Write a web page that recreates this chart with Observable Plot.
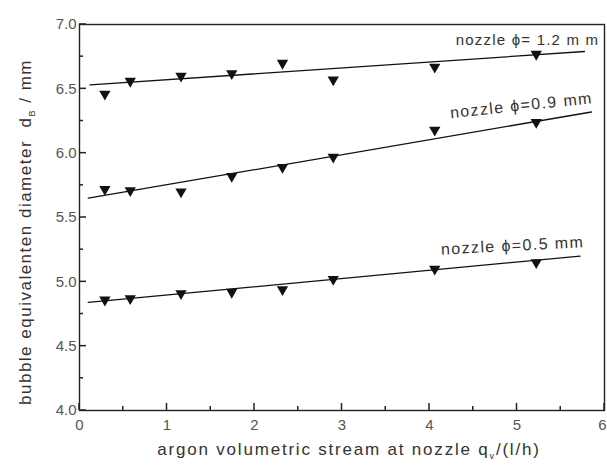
<!DOCTYPE html>
<html>
<head>
<meta charset="utf-8">
<script src="https://cdn.jsdelivr.net/npm/d3@7"></script>
<script src="https://cdn.jsdelivr.net/npm/@observablehq/plot@0.6"></script>
<style>
  html, body { margin: 0; padding: 0; background: #fff; }
  #chart svg { display: block; }
</style>
</head>
<body>
<div id="chart"></div>
<script>
// Argon flow rates (l/h)
const flow = [0.29, 0.58, 1.16, 1.74, 2.32, 2.90, 4.06, 5.22];
// Bubble equivalent diameter (mm) per nozzle diameter
const d12 = [6.46, 6.56, 6.60, 6.62, 6.70, 6.57, 6.67, 6.77];
const d09 = [5.72, 5.71, 5.70, 5.82, 5.89, 5.97, 6.18, 6.24];
const d05 = [4.86, 4.87, 4.91, 4.92, 4.94, 5.02, 5.10, 5.15];
// Fitted lines: start / end flow and diameter
const fitX12 = [0.12, 5.77], fitY12 = [6.53, 6.79];
const fitX09 = [0.10, 5.85], fitY09 = [5.65, 6.32];
const fitX05 = [0.10, 5.72], fitY05 = [4.84, 5.20];
// Series labels
const labelText = ["nozzle \u03D5= 1.2 m m", "nozzle \u03D5=0.9 mm", "nozzle \u03D5=0.5 mm"];
const labelX = [5.12, 5.05, 4.95];
const labelY = [6.88, 6.37, 5.28];
const labelRot = [0, -6, -3];
// Axis ticks
const xMajor = [0, 1, 2, 3, 4, 5];
const xLast = [6];
const xMinor = [0.5, 1.5, 2.5, 3.5, 4.5, 5.5];
const yMajor = [4.0, 4.5, 5.0, 5.5, 6.0, 6.5, 7.0];
const yMinor = [4.25, 4.75, 5.25, 5.75, 6.25, 6.75];

const points = [];
[d12, d09, d05].forEach((s, k) => s.forEach((v, i) => points.push({x: flow[i], y: v, k})));
const fits = [];
[[fitX12, fitY12], [fitX09, fitY09], [fitX05, fitY05]].forEach(([fx, fy], k) =>
  fx.forEach((v, i) => fits.push({x: v, y: fy[i], k})));
const labels = labelText.map((t, i) => ({t, x: labelX[i], y: labelY[i], r: labelRot[i], ls: i === 0 ? 1.2 : 1.4, fs: i === 0 ? 15 : 16}));

const W = 607, H = 467, mL = 79, mR = 3, mT = 24, mB = 57;
const xDom = [0, 6], yDom = [4, 7];
const font = "Liberation Sans, Arial, sans-serif";
const chart = Plot.plot({
  width: W,
  height: H,
  marginLeft: mL,
  marginRight: mR,
  marginTop: mT,
  marginBottom: mB,
  style: {fontFamily: font, background: "#fff", overflow: "visible"},
  x: {domain: xDom},
  y: {domain: yDom},
  marks: [
    Plot.axisX({ticks: xMajor, tickSize: 0, tickPadding: 9, tickFormat: d => d3.format("d")(d), fontSize: 15, color: "#555", label: null}),
    Plot.axisX({ticks: xLast, tickSize: 0, tickPadding: 9, tickFormat: d => d3.format("d")(d), fontSize: 15, color: "#555", textAnchor: "end", dx: 2, label: null}),
    Plot.axisY({ticks: yMajor, tickSize: 0, tickPadding: 3, tickFormat: d => d3.format(".1f")(d), fontSize: 15, color: "#555", label: null}),
    Plot.frame({stroke: "#222", strokeWidth: 1.4}),
    Plot.line(fits, {x: "x", y: "y", z: "k", stroke: "#111", strokeWidth: 1.3}),
    Plot.dot(points, {x: "x", y: "y", symbol: "triangle", rotate: 180, r: 4.2, fill: "#111", stroke: "none"}),
    Plot.text(labels, {x: "x", y: "y", text: "t", rotate: "r", fontSize: "fs", fill: "#333", textAnchor: "middle"})
  ]
});
document.getElementById("chart").appendChild(chart);
// letter spacing of series labels
d3.select(chart).selectAll("g[aria-label='text'] text").each(function(d, i) {
  this.setAttribute("letter-spacing", labels[i] ? labels[i].ls : 1);
});

const svg = d3.select(chart);
// inward ticks positioned through the plot's own scales
const sx = chart.scale("x"), sy = chart.scale("y");
const x0 = sx.apply(xDom[0]), y0 = sy.apply(yDom[0]);
const tg = svg.append("g").attr("stroke", "#222").attr("stroke-width", 1.5);
xMajor.concat(xLast).forEach(v => tg.append("line").attr("x1", sx.apply(v)).attr("x2", sx.apply(v)).attr("y1", y0).attr("y2", y0 - 7));
xMinor.forEach(v => tg.append("line").attr("x1", sx.apply(v)).attr("x2", sx.apply(v)).attr("y1", y0).attr("y2", y0 - 4));
yMajor.forEach(v => tg.append("line").attr("y1", sy.apply(v)).attr("y2", sy.apply(v)).attr("x1", x0).attr("x2", x0 + 7));
yMinor.forEach(v => tg.append("line").attr("y1", sy.apply(v)).attr("y2", sy.apply(v)).attr("x1", x0).attr("x2", x0 + 4));

// axis titles with subscripts
const xt = svg.append("text")
  .attr("x", 349).attr("y", 455)
  .attr("text-anchor", "middle")
  .attr("font-family", font).attr("font-size", 17).attr("fill", "#333")
  .attr("letter-spacing", 1.8);
xt.append("tspan").text("argon volumetric stream at nozzle q");
xt.append("tspan").attr("font-size", 9).attr("dy", 4).text("v");
xt.append("tspan").attr("dy", -4).text("/(l/h)");

const yt = svg.append("text")
  .attr("transform", "translate(31,232) rotate(-90)")
  .attr("text-anchor", "middle")
  .attr("font-family", font).attr("font-size", 17).attr("fill", "#333")
  .attr("letter-spacing", 1.5);
yt.append("tspan").text("bubble equivalenten diameter  d");
yt.append("tspan").attr("font-size", 9).attr("dy", 4).text("B");
yt.append("tspan").attr("dy", -4).text(" / mm");
</script>
</body>
</html>
